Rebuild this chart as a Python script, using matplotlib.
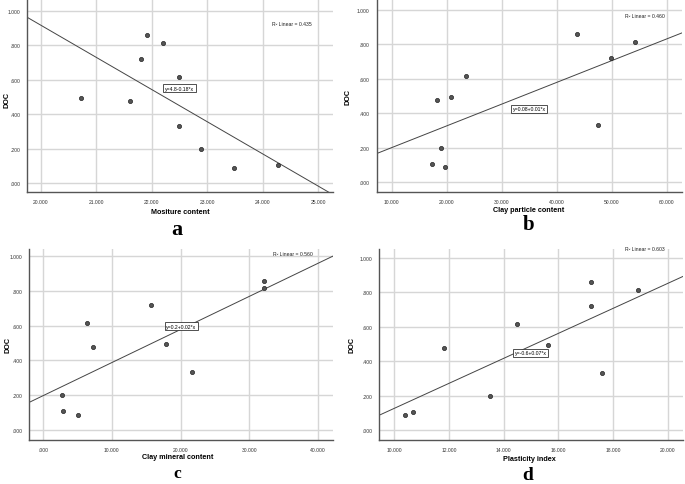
import numpy as np
import matplotlib
matplotlib.use("Agg")
import matplotlib.pyplot as plt
from matplotlib.ticker import FuncFormatter, MultipleLocator

# ---- data ----
doc = [0.860, 0.815, 0.720, 0.614, 0.496, 0.477, 0.334, 0.198, 0.105, 0.087]
moisture = [21.91, 22.20, 21.81, 22.50, 20.72, 21.61, 22.50, 22.89, 24.28, 23.49]
clay_particle = [43.64, 54.18, 49.88, 23.52, 20.79, 18.18, 47.52, 19.03, 17.39, 19.64]
clay_mineral = [32.10, 32.10, 15.76, 6.35, 17.94, 7.27, 21.62, 2.76, 2.86, 5.00]
plasticity = [17.20, 18.91, 17.20, 14.50, 15.60, 11.80, 17.59, 13.50, 10.69, 10.39]

x_labels = ["Mositure content", "Clay particle content", "Clay mineral content", "Plasticity index"]
equations = ["y=4.8-0.18*x", "y=0.08+0.01*x", "y=0.2+0.02*x", "y=-0.6+0.07*x"]
r2_texts = ["R² Linear = 0.435", "R² Linear = 0.460", "R² Linear = 0.560", "R² Linear = 0.603"]
panel_letters = ["a", "b", "c", "d"]

xs = [moisture, clay_particle, clay_mineral, plasticity]
xlims = [(19.75, 25.27), (7.27, 62.7), (-2.08, 42.2), (9.44, 20.55)]
ylims = [(-0.052, 1.07), (-0.054, 1.062), (-0.058, 1.042), (-0.054, 1.05)]
xsteps = [1, 10, 10, 2]
eq_pos = [(22.5, 0.55), (35.0, 0.425), (20.1, 0.596), (14.99, 0.448)]
positions = [
    [27/685, 1 - 193/485, (333-27)/685, 193/485],
    [376.7/685, 1 - 192.7/485, (681.7-376.7)/685, 192.7/485],
    [29/685, 1 - 440.7/485, (333-29)/685, (440.7-250)/485],
    [379/685, 1 - 440.7/485, (683-379)/685, (440.7-250)/485],
]
xlabel_pos = [(180, 212), (529, 211), (178, 458), (529, 460)]
letter_pos = [(177, 235), (529, 230.5), (177.5, 478), (527.5, 480)]
letter_size = [16, 15, 12.5, 14]
r2_pos = [(312, 24), (665, 16), (313, 255), (665, 250)]
ylabel_pos = [(7, 100), (348, 97), (8, 345), (352, 345)]

plt.rcParams['font.family'] = ['Liberation Sans', 'DejaVu Sans']

fig = plt.figure(figsize=(6.85, 4.85), dpi=100)


def fmt(v, pos):
    s = f"{v:.3f}"
    if s.startswith("0."):
        s = s[1:]
    elif s.startswith("-0."):
        s = "-" + s[2:]
    return s


W, H = 685.0, 485.0
for i in range(4):
    ax = fig.add_axes(positions[i])
    x = np.array(xs[i]); y = np.array(doc)
    ax.set_xlim(*xlims[i]); ax.set_ylim(*ylims[i])
    ax.xaxis.set_major_locator(MultipleLocator(xsteps[i]))
    ax.yaxis.set_major_locator(MultipleLocator(0.2))
    ax.xaxis.set_major_formatter(FuncFormatter(fmt))
    ax.yaxis.set_major_formatter(FuncFormatter(fmt))
    ax.grid(True, color="#d6d6d6", linewidth=1.0)
    ax.set_axisbelow(True)
    for s in ["top", "right"]:
        ax.spines[s].set_visible(False)
    for s in ["left", "bottom"]:
        ax.spines[s].set_color("#555555")
        ax.spines[s].set_linewidth(1.0)
    ax.tick_params(length=0, labelsize=3.6, pad=5, colors="#333333")
    # fit line
    b, a0 = np.polyfit(x, y, 1)
    xl = np.array(xlims[i])
    ax.plot(xl, a0 + b * xl, color="#444444", linewidth=0.7, zorder=2)
    ax.scatter(x, y, s=9, color="#555555", edgecolor="#222222", linewidth=0.5, zorder=3)
    ax.text(eq_pos[i][0], eq_pos[i][1], equations[i], fontsize=3.7, ha="center", va="center",
            bbox=dict(boxstyle="square,pad=0.3", fc="white", ec="#333333", lw=0.6), zorder=4)
    fig.text(r2_pos[i][0] / W, 1 - r2_pos[i][1] / H, r2_texts[i], fontsize=3.7,
             ha="right", va="center", color="#222222")
    fig.text(xlabel_pos[i][0] / W, 1 - xlabel_pos[i][1] / H, x_labels[i], fontsize=5.2,
             fontweight="bold", ha="center", va="center")
    fig.text(ylabel_pos[i][0] / W, 1 - ylabel_pos[i][1] / H, "DOC", fontsize=5.2,
             fontweight="bold", ha="center", va="center", rotation=90)
    fig.text(letter_pos[i][0] / W, 1 - letter_pos[i][1] / H, panel_letters[i],
             fontsize=letter_size[i], fontweight="bold", ha="center", va="baseline",
             family="Liberation Serif")

fig.savefig("out.png", dpi=100)
